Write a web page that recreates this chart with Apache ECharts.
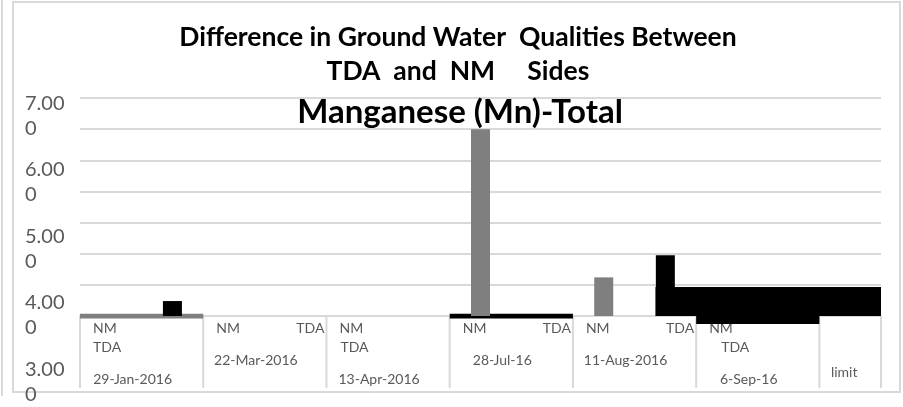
<!DOCTYPE html>
<html>
<head>
<meta charset="utf-8">
<script src="https://cdn.jsdelivr.net/npm/echarts@6/dist/echarts.min.js"></script>
<style>
  html, body { margin: 0; padding: 0; background: #fff; }
  #chart { width: 903px; height: 407px; }
</style>
</head>
<body>
<div id="chart"></div>
<script>
// Sampling dates; each date has an NM side and a TDA side, then one "limit" slot
const sampleDates = ['29-Jan-2016', '22-Mar-2016', '13-Apr-2016', '28-Jul-16', '11-Aug-2016', '6-Sep-16'];
const sides = ['NM', 'TDA'];
const limitLabel = 'limit';

// Column heights per slot (NM, TDA alternating, limit last)
const nmValues  = [null, null, null, null, null, null, 6.0, null, 1.24, null, null, null, null];
const tdaValues = [null, 0.48, null, null, null, null, null, null, null, 1.95, null, null, null];

// Flat bands across a whole date group: [fromSlot, toSlot, low, high]
const nmBands    = [[0, 2, -0.08, 0.07]];
const tdaBands   = [[6, 8, -0.08, 0.07], [10, 12, -0.26, 0.26]];
const limitBands = [[9.34, 13, 0, 0.93]];

// Vertical axis tick labels
const yTickLabels = ['3.000', '4.000', '5.000', '6.000', '7.000'];

// ---- layout of the two-level category labels ----
const wrapSideLabels = [true, false, true, false, false, true];
const wrappedTdaIndent = [13, 0, 14, 0, 0, 25];

const slotNames = [];
sampleDates.forEach(d => sides.forEach(s => slotNames.push(d + ' ' + s)));
slotNames.push(limitLabel);

const FONT = 'Lato, "Open Sans", sans-serif';
const GRID_LINE = '#d9d9d9';
const LABEL_COLOR = '#595959';

const chart = echarts.init(document.getElementById('chart'), null, { renderer: 'canvas' });

function bandItem(params, api) {
  const a = api.coord([api.value(0), api.value(3)]);
  const b = api.coord([api.value(1), api.value(2)]);
  return {
    type: 'rect',
    shape: { x: a[0], y: a[1], width: b[0] - a[0], height: b[1] - a[1] },
    style: api.style()
  };
}

chart.setOption({
  animation: false,
  backgroundColor: '#fff',
  title: [
    {
      text: 'Difference in Ground Water  Qualities Between\nTDA  and  NM     Sides',
      left: 453, top: 15, textAlign: 'center',
      textStyle: { fontFamily: FONT, fontSize: 26.5, fontWeight: 'bold', color: '#000', lineHeight: 34 }
    },
    {
      text: 'Manganese (Mn)-Total',
      left: 455, top: 89, textAlign: 'center',
      textStyle: { fontFamily: FONT, fontSize: 33, fontWeight: 'bold', color: '#000', lineHeight: 36 }
    }
  ],
  grid: [
    { left: 80, right: 22, top: 98, bottom: 91 },
    { left: 80, right: 22, top: 116, bottom: 18 }
  ],
  xAxis: [
    {
      type: 'category', gridIndex: 0, data: slotNames, boundaryGap: true,
      axisLine: { lineStyle: { color: GRID_LINE, width: 2 } },
      axisTick: { show: false }, axisLabel: { show: false }, splitLine: { show: false }
    },
    { type: 'value', gridIndex: 0, min: 0, max: 13, show: false },
    { type: 'value', gridIndex: 1, min: 0, max: 1, show: false }
  ],
  yAxis: [
    {
      type: 'value', gridIndex: 0, min: 0, max: 7, interval: 1,
      axisLine: { show: false }, axisTick: { show: false }, axisLabel: { show: false },
      splitLine: { lineStyle: { color: GRID_LINE, width: 2 } }
    },
    {
      type: 'value', gridIndex: 1, min: 3, max: 7, interval: 1,
      axisLine: { show: false }, axisTick: { show: false }, splitLine: { show: false },
      axisLabel: {
        margin: 55, align: 'left',
        fontFamily: FONT, fontSize: 20, color: LABEL_COLOR, lineHeight: 25,
        formatter: v => {
          const t = yTickLabels[v - 3];
          return t.slice(0, 4) + '\n' + t.slice(4);
        }
      }
    }
  ],
  series: [
    {
      name: 'limit', type: 'custom', xAxisIndex: 1, yAxisIndex: 0,
      renderItem: bandItem, data: limitBands, z: 2,
      itemStyle: { color: '#000' }, encode: { x: [0, 1], y: [2, 3] }
    },
    {
      name: 'NM band', type: 'custom', xAxisIndex: 1, yAxisIndex: 0,
      renderItem: bandItem, data: nmBands, z: 3,
      itemStyle: { color: '#7f7f7f' }, encode: { x: [0, 1], y: [2, 3] }
    },
    {
      name: 'TDA band', type: 'custom', xAxisIndex: 1, yAxisIndex: 0,
      renderItem: bandItem, data: tdaBands, z: 3,
      itemStyle: { color: '#000' }, encode: { x: [0, 1], y: [2, 3] }
    },
    {
      name: 'NM', type: 'bar', xAxisIndex: 0, yAxisIndex: 0,
      data: nmValues, barWidth: 19, barGap: '-100%', z: 4,
      itemStyle: { color: '#7f7f7f' }
    },
    {
      name: 'TDA', type: 'bar', xAxisIndex: 0, yAxisIndex: 0,
      data: tdaValues, barWidth: 19, barGap: '-100%', z: 4,
      itemStyle: { color: '#000' }
    }
  ]
});

// Two-level category labels and group separators, placed from the slot axis
const px = s => chart.convertToPixel({ xAxisIndex: 1 }, s);
const axisY = chart.convertToPixel({ yAxisIndex: 0 }, 0);
const labelStyle = { fontFamily: FONT, fontSize: 14, fill: LABEL_COLOR };
const graphics = [];

const sepSlots = [0, 2, 4, 6, 8, 10, 12, 13];
sepSlots.forEach(s => {
  const x = px(s);
  graphics.push({ type: 'line', shape: { x1: x, y1: axisY, x2: x, y2: axisY + 72 },
    style: { stroke: GRID_LINE, lineWidth: 2 }, z: 1 });
});

sampleDates.forEach((d, g) => {
  const left = px(2 * g), right = px(2 * g + 2), mid = (left + right) / 2;
  graphics.push({ type: 'text', x: left + 13, y: axisY + 12,
    style: Object.assign({ text: sides[0], align: 'left', verticalAlign: 'middle' }, labelStyle) });
  if (wrapSideLabels[g]) {
    graphics.push({ type: 'text', x: left + wrappedTdaIndent[g], y: axisY + 31,
      style: Object.assign({ text: sides[1], align: 'left', verticalAlign: 'middle' }, labelStyle) });
    graphics.push({ type: 'text', x: mid - 9, y: axisY + 63,
      style: Object.assign({ text: d, align: 'center', verticalAlign: 'middle' }, labelStyle) });
  } else {
    graphics.push({ type: 'text', x: right - 2, y: axisY + 12,
      style: Object.assign({ text: sides[1], align: 'right', verticalAlign: 'middle' }, labelStyle) });
    graphics.push({ type: 'text', x: mid - 9, y: axisY + 44,
      style: Object.assign({ text: d, align: 'center', verticalAlign: 'middle' }, labelStyle) });
  }
});
graphics.push({ type: 'text', x: (px(12) + px(13)) / 2 - 6, y: axisY + 56,
  style: Object.assign({ text: limitLabel, align: 'center', verticalAlign: 'middle' }, labelStyle) });

// Chart frame and neighbouring border
graphics.push({ type: 'rect', shape: { x: 13, y: 2, width: 887, height: 390 },
  style: { fill: null, stroke: GRID_LINE, lineWidth: 2 }, z: 0 });
graphics.push({ type: 'line', shape: { x1: 2, y1: 0, x2: 2, y2: 396 },
  style: { stroke: GRID_LINE, lineWidth: 2 }, z: 0 });

chart.setOption({ graphic: graphics });
</script>
</body>
</html>
